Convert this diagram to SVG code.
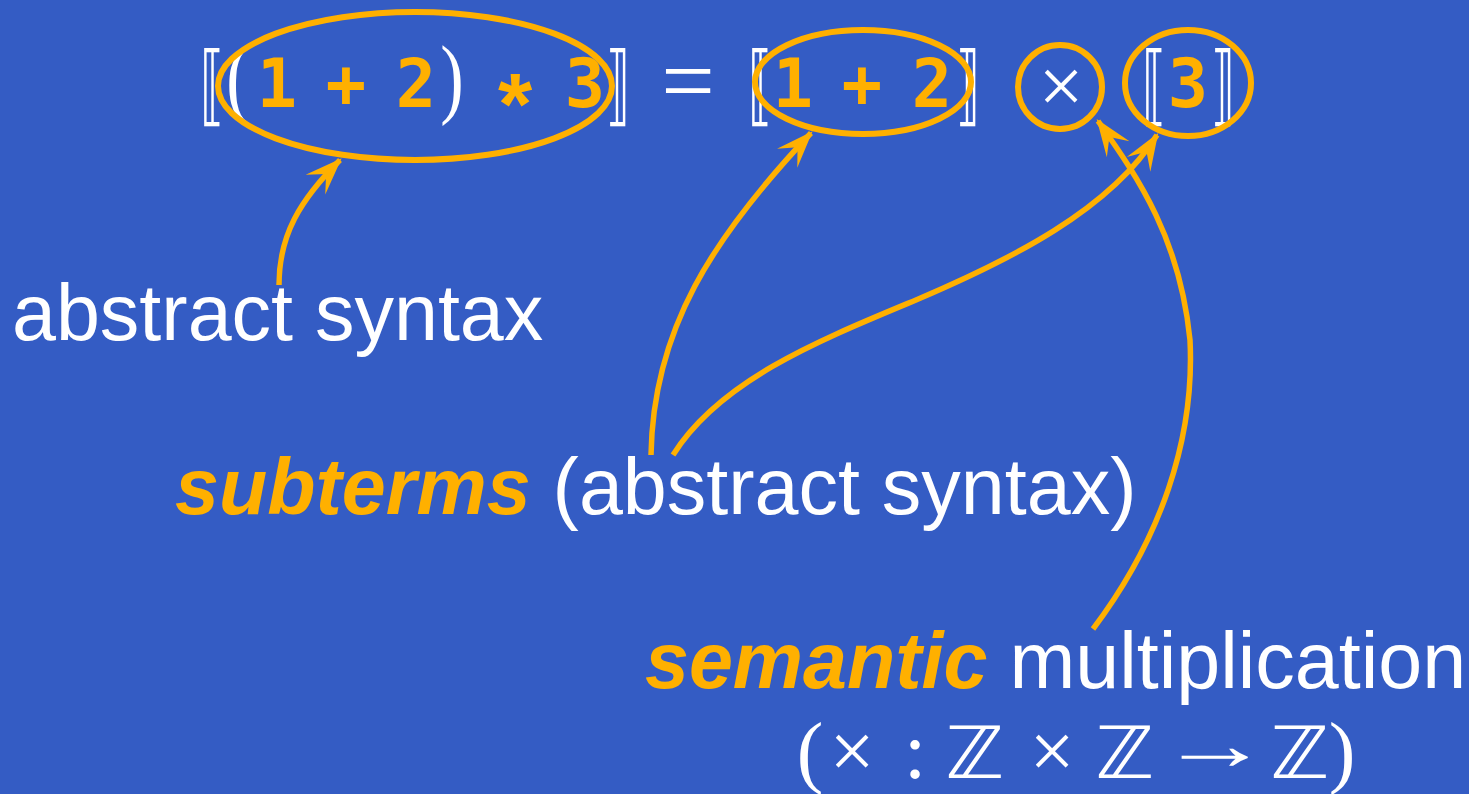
<svg xmlns="http://www.w3.org/2000/svg" width="1469" height="794" viewBox="0 0 1469 794">
<style>
.bg{fill:#345CC4}
.ring{fill:none;stroke:#FFB000;stroke-width:6}
.conn{fill:none;stroke:#FFB000;stroke-width:5.5}
.tt{font-family:"DejaVu Sans Mono",monospace;font-weight:bold;fill:#FFB000;font-size:67px;text-anchor:middle}
.m{font-family:"Liberation Serif","DejaVu Serif",serif;fill:#fff;text-anchor:middle}
.br{font-family:"DejaVu Sans",sans-serif;fill:#fff;font-size:88px;text-anchor:middle}
.zz{font-family:"DejaVu Sans",sans-serif;fill:#fff;font-size:72px;text-anchor:middle}
.lbl{font-family:"Liberation Sans",Arial,sans-serif;fill:#fff;font-size:79px}
.em{font-weight:bold;font-style:italic;fill:#FFB000}
</style>
<defs>
<marker id="ah" markerUnits="userSpaceOnUse" markerWidth="44" markerHeight="40" viewBox="-34 -15 38 30" refX="0" refY="0" orient="auto">
<path d="M2,0 L-30,-12 L-17,0 L-30,12 Z" fill="#FFB000"/>
</marker>
</defs>
<rect class="bg" x="0" y="0" width="1469" height="794"/>

<g id="formula">
<text class="br" transform="translate(212,115) scale(0.55,1)">⟦</text>
<text class="m" font-size="88" transform="translate(238,107) scale(0.8,1)">(</text>
<text class="tt" x="277" y="107">1</text>
<text class="tt" x="346" y="107">+</text>
<text class="tt" x="416" y="107">2</text>
<text class="m" font-size="88" transform="translate(452,107) scale(0.8,1)">)</text>
<text x="515" y="134" font-family="Liberation Sans, Arial, sans-serif" font-weight="bold" font-size="88" fill="#FFB000" text-anchor="middle">*</text>
<text class="tt" x="585" y="107">3</text>
<text class="br" transform="translate(618,115) scale(0.55,1)">⟧</text>
<text class="m" x="688" y="113" font-size="95">=</text>
<text class="br" transform="translate(760,115) scale(0.55,1)">⟦</text>
<text class="tt" x="793" y="107">1</text>
<text class="tt" x="862" y="107">+</text>
<text class="tt" x="932" y="107">2</text>
<text class="br" transform="translate(968,115) scale(0.55,1)">⟧</text>
<text class="m" x="1061" y="113" font-size="80">×</text>
<text class="br" transform="translate(1154,115) scale(0.55,1)">⟦</text>
<text class="tt" x="1188" y="107" font-weight="normal">3</text>
<text class="br" transform="translate(1223,115) scale(0.55,1)">⟧</text>
</g>

<g id="rings">
<ellipse class="ring" cx="415" cy="86" rx="197" ry="74"/>
<ellipse class="ring" cx="863" cy="82" rx="108" ry="52"/>
<ellipse class="ring" cx="1060" cy="87" rx="42" ry="42"/>
<ellipse class="ring" cx="1188" cy="83" rx="63" ry="53"/>
</g>

<g id="label-abstract">
<text class="lbl" x="12" y="340">abstract syntax</text>
</g>
<g id="label-subterms">
<text class="lbl" x="175" y="514"><tspan class="em">subterms</tspan> (abstract syntax)</text>
</g>
<g id="label-semantic">
<text class="lbl" x="645" y="688"><tspan class="em">semantic</tspan> multiplication</text>
</g>
<g id="label-type">
<text class="m" x="810" y="778" font-size="80">(</text>
<text class="m" x="852" y="778" font-size="80">×</text>
<text class="m" x="915" y="778" font-size="80">:</text>
<text class="zz" transform="translate(975,778) scale(1.1,1)">ℤ</text>
<text class="m" x="1052" y="778" font-size="80">×</text>
<text class="zz" transform="translate(1125,778) scale(1.1,1)">ℤ</text>
<text class="m" font-size="72" transform="translate(1215,769) scale(1.55,1)">→</text>
<text class="zz" transform="translate(1300,778) scale(1.1,1)">ℤ</text>
<text class="m" x="1342" y="778" font-size="80">)</text>
</g>

<g id="connectors">
<path class="conn" marker-end="url(#ah)" d="M279,285 C279,235 300,200 340,160"/>
<path class="conn" marker-end="url(#ah)" d="M651,455 C653,330 712,238 811,133"/>
<path class="conn" marker-end="url(#ah)" d="M673,455 C720,380 820,340 916,300 C1010,260 1110,210 1157,135"/>
<path class="conn" marker-end="url(#ah)" d="M1093,629 C1160,540 1195,440 1190,340 C1180,240 1140,180 1098,121"/>
</g>
</svg>
